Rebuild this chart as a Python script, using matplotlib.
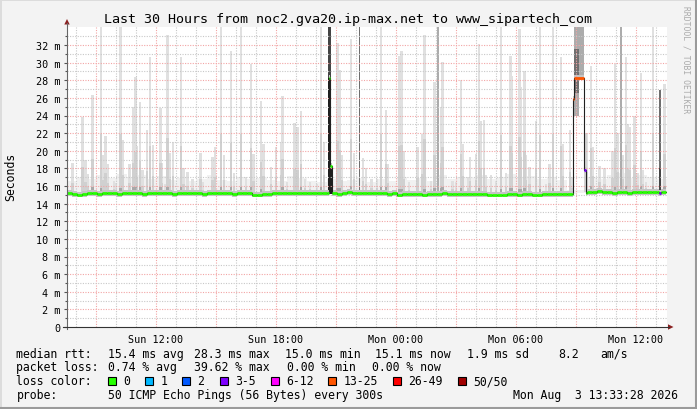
import datetime as dt
import numpy as np
import matplotlib
matplotlib.use("Agg")
import matplotlib.pyplot as plt
from matplotlib.patches import Rectangle, Polygon

W, H = 697, 410
start = dt.datetime(2026, 8, 2, 7, 33, 28)
span_h = 30.0
data_end = 29.95

# median rtt (ms), one value per 15 minutes from graph start
median_ms = [
    15.2, 15.1, 15.0, 15.1, 15.2, 15.2, 15.1, 15.2, 15.2, 15.2, 15.1, 15.2,
    15.2, 15.2, 15.2, 15.1, 15.2, 15.2, 15.2, 15.2, 15.2, 15.1, 15.2, 15.2,
    15.2, 15.2, 15.2, 15.1, 15.2, 15.2, 15.2, 15.2, 15.2, 15.1, 15.2, 15.2,
    15.2, 15.0, 15.0, 15.1, 15.1, 15.2, 15.2, 15.2, 15.2, 15.2, 15.2, 15.2,
    15.2, 15.2, 15.2, 15.2, 15.2, 15.2, 15.1, 15.2, 15.3, 15.2, 15.2, 15.2,
    15.2, 15.2, 15.2, 15.2, 15.1, 15.2, 15.0, 15.1, 15.1, 15.1, 15.1, 15.0,
    15.1, 15.1, 15.1, 15.2, 15.1, 15.1, 15.1, 15.1, 15.1, 15.1, 15.1, 15.1,
    15.0, 15.0, 15.0, 15.0, 15.1, 15.1, 15.0, 15.1, 15.1, 15.0, 15.0, 15.1,
    15.1, 15.1, 15.1, 15.1, 15.1, 15.1, 15.2, 15.2, 15.3, 15.3, 15.4, 15.3,
    15.3, 15.2, 15.3, 15.3, 15.2, 15.3, 15.3, 15.3, 15.3, 15.3, 15.3, 15.3,
]

# upper edge of the low, dense smoke (ms), one value per 30 minutes
smoke_low = [
    16.6, 17.0, 16.8, 17.2, 16.9, 17.4, 17.0, 17.3, 16.8, 17.1,
    16.7, 16.9, 16.6, 16.8, 17.2, 16.7, 16.6, 17.0, 16.8, 16.9,
    16.7, 16.6, 17.1, 16.9, 16.6, 16.5, 16.8, 16.6, 16.7, 16.9,
    16.5, 16.8, 16.6, 17.0, 16.7, 16.9, 16.6, 17.2, 16.8, 17.0,
    16.9, 17.3, 16.8, 17.0, 17.4, 16.9, 17.1, 16.8, 17.0, 16.7,
    15.6, 15.6, 17.0, 16.8, 17.2, 17.5, 16.9, 17.3, 17.0, 16.8,
]

# short periods read at ping-round resolution (hours from start)
ev_start = [13.08, 13.17, 25.30, 25.36, 25.86, 29.62]
ev_end = [13.17, 13.25, 25.36, 25.86, 25.95, 29.70]
ev_med = [28.2, 18.3, 25.9, 28.3, 17.8, 15.2]
ev_loss = [0, 0, 5, 5, 3, 3]

loss_labels = ["0", "1", "2", "3-5", "6-12", "13-25", "26-49", "50/50"]
loss_colors = ["#26ff00", "#00b8ff", "#0059ff", "#7e00ff",
               "#ff00ff", "#ff5500", "#ff0000", "#a10000"]

# smoke outliers: hour from start, highest ping (ms)
spike_h = [0.28, 0.78, 0.93, 1.05, 1.28, 1.70, 1.78, 1.92, 2.05, 2.35, 2.45, 2.68,
           2.78, 3.12, 3.32, 3.42, 3.50, 3.65, 3.78, 4.00, 4.15, 4.30, 4.67, 4.75,
           4.90, 5.03, 5.12, 5.30, 5.70, 5.82, 6.03, 6.28, 6.67, 6.80, 7.28, 7.40,
           7.70, 7.85, 8.20, 8.35, 8.70, 8.95, 9.20, 9.32, 9.70, 9.82, 10.20, 10.45,
           10.70, 10.78, 11.00, 11.37, 11.53, 11.70, 11.90, 12.15, 12.50, 12.70, 12.85,
           13.53, 13.62, 13.72, 14.20, 14.35, 14.80, 14.95, 15.22, 15.50, 15.70, 15.95,
           16.05, 16.62, 16.72, 16.82, 17.10, 17.53, 17.78, 17.87, 18.20, 18.37, 18.70,
           18.78, 19.27, 19.45, 19.70, 19.80, 20.08, 20.15, 20.45, 20.60, 20.68, 20.85,
           20.95, 21.20, 21.45, 21.70, 21.95, 22.17, 22.22, 22.62, 22.70, 22.87, 22.95,
           23.12, 23.45, 23.65, 23.95, 24.12, 24.30, 24.70, 24.80, 25.15, 25.22, 26.00,
           26.20, 26.30, 26.62, 26.87, 27.28, 27.40, 27.52, 27.78, 27.95, 28.03, 28.12,
           28.37, 28.53, 28.70, 28.78, 28.95, 29.30, 29.87]
spike_top = [18.6, 23.8, 18.9, 17.4, 26.3, 34.5, 19.5, 21.7, 18.5, 16.6, 16.3, 34.5,
             21.2, 18.5, 25.0, 28.4, 20.5, 25.5, 17.8, 22.3, 30.6, 20.7, 24.9, 18.6,
             16.2, 33.1, 19.7, 21.0, 30.6, 18.0, 17.6, 16.8, 19.8, 16.5, 19.3, 20.4,
             34.5, 19.5, 31.3, 17.5, 34.5, 17.0, 29.9, 19.6, 25.6, 20.8, 18.2, 20.4,
             21.0, 26.2, 16.5, 23.1, 22.7, 24.5, 16.8, 16.5, 16.2, 34.5, 21.0,
             32.2, 29.2, 19.5, 32.7, 19.8, 19.2, 18.0, 16.8, 16.8, 34.5, 24.6,
             18.5, 30.8, 31.3, 20.0, 16.5, 20.4, 21.9, 33.1, 16.6, 27.8, 25.0,
             30.1, 16.6, 16.4, 28.0, 20.8, 17.0, 19.3, 19.6, 32.1, 23.4, 23.5,
             17.2, 17.2, 16.6, 34.5, 17.5, 30.8, 28.5, 33.8, 27.2, 29.1, 19.5,
             18.2, 23.4, 34.5, 16.2, 18.5, 34.5, 30.6, 20.8, 22.3, 17.0, 22.0,
             29.6, 20.4, 18.3, 18.0, 20.0, 29.8, 22.0, 19.5, 30.6, 23.0, 22.7,
             24.0, 17.5, 28.8, 17.8, 16.5, 34.5, 27.6]

# dense smoke columns: start hour, length (h), low/high ping (ms), density 1..5
col_h = [13.06, 13.06, 13.17, 14.60, 18.50, 25.34, 25.34, 25.60, 25.86, 27.67, 29.60, 29.60]
col_w = [0.12, 0.12, 0.09, 0.07, 0.09, 0.27, 0.27, 0.26, 0.14, 0.09, 0.1, 0.1]
col_lo = [15.1, 15.1, 15.1, 15.2, 15.2, 24.0, 26.5, 28.6, 15.3, 15.2, 15.2, 15.2]
col_hi = [34.5, 28.2, 18.3, 34.5, 34.5, 34.5, 31.5, 34.5, 22.0, 34.5, 26.9, 18.0]
col_dens = [4, 5, 5, 3, 2, 2, 3, 2, 1, 2, 3, 4]
dens_grey = {1: "#d2d2d2", 2: "#acacac", 3: "#6e6e6e", 4: "#444444", 5: "#1e1e1e"}

y_max = 300 / 8.8125

fig = plt.figure(figsize=(W / 100, H / 100), dpi=100, facecolor="#f3f3f3")
ax = fig.add_axes([67 / W, 82 / H, 600 / W, 300 / H])
ax.set_xlim(0, span_h)
ax.set_ylim(0, y_max)
ax.set_facecolor("white")
for s in ax.spines.values():
    s.set_visible(False)

mono = "DejaVu Sans Mono"


def base_at(h):
    return median_ms[min(int(h / 0.25), len(median_ms) - 1)]


# low dense smoke
low_t = np.arange(len(smoke_low)) * 0.5
low_base = np.array([base_at(t) for t in low_t])
ax.bar(low_t, np.array(smoke_low) - low_base, bottom=low_base, width=0.5,
       align="edge", color="#f1f1f1", zorder=1)

# outliers
base = np.array([base_at(h) for h in spike_h])
top = np.array(spike_top)
ax.bar(spike_h, top - base, bottom=base, width=0.14, color="#e0e0e0", zorder=1)
ax.bar(spike_h, (top - base) * 0.35, bottom=base, width=0.14, color="#d0d0d0",
       zorder=1)
big = top > 24
ax.bar(np.array(spike_h)[big], 0.8, bottom=base[big] - 0.1, width=0.12,
       color="#a8a8a8", zorder=1)
for h, w, lo, hi, d in zip(col_h, col_w, col_lo, col_hi, col_dens):
    ax.bar(h, hi - lo, bottom=lo, width=w, align="edge", color=dens_grey[d],
           zorder=2)

# median segments, events spliced in
segs = [[i * 0.25, min((i + 1) * 0.25, data_end), v, 0] for i, v in enumerate(median_ms)]
for t0, t1, v, l in zip(ev_start, ev_end, ev_med, ev_loss):
    new = []
    for s in segs:
        if s[1] <= t0 or s[0] >= t1:
            new.append(s)
        else:
            if s[0] < t0:
                new.append([s[0], t0, s[2], s[3]])
            if s[1] > t1:
                new.append([t1, s[1], s[2], s[3]])
    new.append([t0, t1, v, l])
    segs = sorted(new)

seg_t = np.array([[s[0], s[1]] for s in segs])
seg_v = np.array([s[2] for s in segs])
seg_l = [s[3] for s in segs]

# band of smoke around the median
ax.fill_between(seg_t.ravel(), np.repeat(seg_v, 2) - 0.3, np.repeat(seg_v, 2) + 0.35,
                color="#c4c4c4", lw=0, zorder=2)

# grid
mgrid = "#f2a5a5"
mn = "#c8c8c8"
first = (12 - start.hour) - start.minute / 60 - start.second / 3600
for k in range(-6, 31):
    hx = first + k
    if 0 < hx < span_h:
        major = (k % 3 == 0)
        ax.axvline(hx, color=mgrid if major else mn, lw=0.8, ls=(0, (1, 1.3)),
                   zorder=3)
for yv in range(1, 34):
    ax.axhline(yv, color=mgrid if yv % 2 == 0 else mn, lw=0.8, ls=(0, (1, 1.3)),
               zorder=3)

ax.plot(seg_t.ravel(), np.repeat(seg_v, 2), color="#202020", lw=0.8, zorder=4)
for (t0, t1), v, l in zip(seg_t, seg_v, seg_l):
    ax.plot([t0, t1], [v, v], color=loss_colors[l], lw=2.0, zorder=5,
            solid_capstyle="butt")

# ticks
xt = [first + 6 * k for k in range(5)]
xl = [(start + dt.timedelta(hours=h)).strftime("%a %H:%M") for h in xt]
ax.set_xticks(xt)
ax.set_xticklabels(xl, fontsize=7.3, family=mono)
ax.tick_params(axis="x", length=0, pad=5)
ax.set_yticks(range(0, 33, 2))
ax.set_yticklabels(["0"] + ["%d m" % v for v in range(2, 33, 2)], fontsize=7.3,
                   family=mono)
ax.set_yticks(range(1, 34, 2), minor=True)
ax.tick_params(axis="y", which="major", length=2.5, width=0.8, color="#555555",
               pad=2.5)
ax.tick_params(axis="y", which="minor", length=1.5, width=0.8, color="#555555")


def fx(x):
    return x / W


def fy(y):
    return 1 - y / H


# axes lines with arrows
fig.add_artist(plt.Line2D([fx(67), fx(67)], [fy(330), fy(24)], color="#666666",
                          lw=0.8))
fig.add_artist(plt.Line2D([fx(63), fx(669)], [fy(328), fy(328)], color="#333333",
                          lw=0.8))
fig.add_artist(Polygon([[fx(64.3), fy(25.5)], [fx(69.7), fy(25.5)], [fx(67), fy(20)]],
                       closed=True, color="#8b2020", lw=0))
fig.add_artist(Polygon([[fx(668), fy(325.3)], [fx(668), fy(330.7)], [fx(673.5), fy(328)]],
                       closed=True, color="#8b2020", lw=0))

# frame
fig.add_artist(plt.Line2D([0, 1], [fy(0.5), fy(0.5)], color="#dcdcdc", lw=1.4))
fig.add_artist(plt.Line2D([fx(0.5), fx(0.5)], [0, 1], color="#dcdcdc", lw=1.4))
fig.add_artist(plt.Line2D([0, 1], [fy(409), fy(409)], color="#9a9a9a", lw=1.5))
fig.add_artist(plt.Line2D([fx(696), fx(696)], [0, 1], color="#9a9a9a", lw=1.5))

fig.text(fx(348), fy(19.5), "Last 30 Hours from noc2.gva20.ip-max.net to www_sipartech_com",
         ha="center", va="center", fontsize=9.6, family=mono)
fig.text(fx(11), fy(177), "Seconds", rotation=90, ha="center", va="center",
         fontsize=8.3, family=mono)
fig.text(fx(686), fy(60), "RRDTOOL / TOBI OETIKER", rotation=270, ha="center",
         va="center", fontsize=5.8, family=mono, color="#aaaaaa")

lg = dict(fontsize=8.3, family=mono, va="center", ha="left")
rows = [
    (354.5, [(16.4, "median rtt:"), (108, "15.4 ms avg"), (194, "28.3 ms max"),
             (285, "15.0 ms min"), (375, "15.1 ms now"), (467, "1.9 ms sd"),
             (558, "8.2"), (600, "am/s")]),
    (368, [(16.4, "packet loss:"), (108, "0.74 % avg"), (194, "39.62 % max"),
           (287, "0.00 % min"), (372, "0.00 % now")]),
    (382, [(16.4, "loss color:")]),
    (396, [(16.4, "probe:"), (108, "50 ICMP Echo Pings (56 Bytes) every 300s"),
           (513, "Mon Aug  3 13:33:28 2026")]),
]
for y, items in rows:
    for x, s in items:
        fig.text(fx(x), fy(y), s, **lg)

box_x = [108, 145, 182, 219.5, 270.7, 328, 393, 458]
for x, c, lab in zip(box_x, loss_colors, loss_labels):
    fig.add_artist(Rectangle((fx(x), fy(386)), 8 / W, 8 / H, facecolor=c,
                             edgecolor="black", lw=0.8))
    fig.text(fx(x + 15.5), fy(382), lab, **lg)

fig.savefig("out.png", dpi=100, facecolor=fig.get_facecolor())
